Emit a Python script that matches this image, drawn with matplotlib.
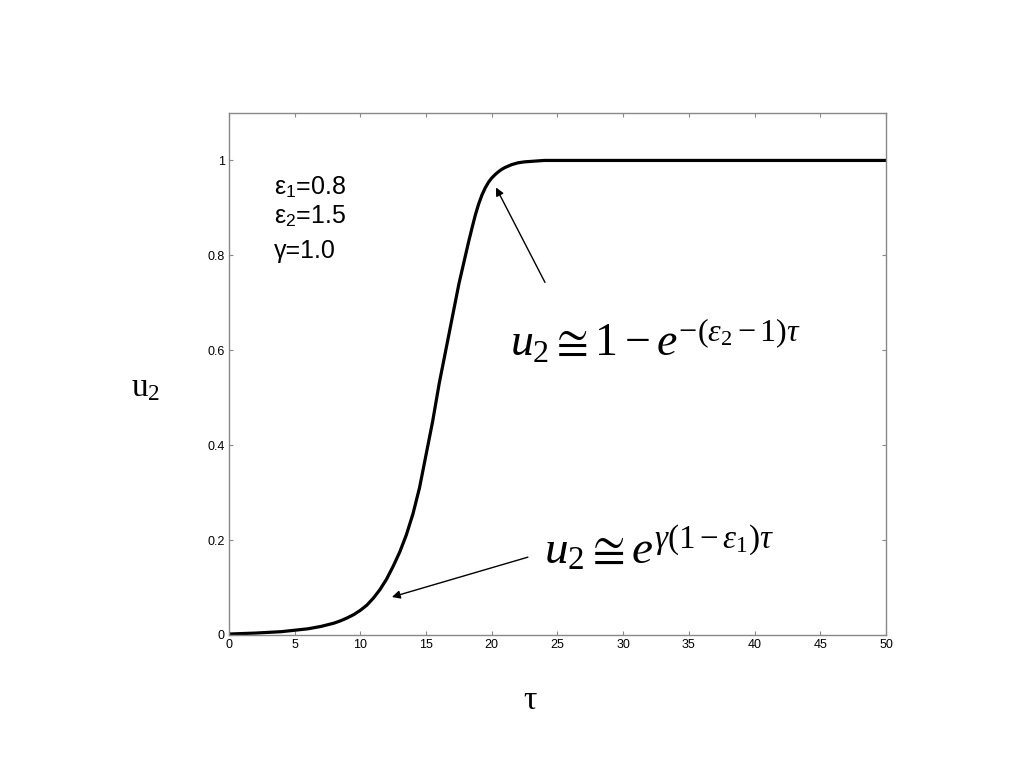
import matplotlib
matplotlib.use("Agg")
import matplotlib.pyplot as plt

plt.rcParams['mathtext.fontset'] = 'custom'
plt.rcParams['mathtext.rm'] = 'Liberation Serif'
plt.rcParams['mathtext.it'] = 'Liberation Serif:italic'
plt.rcParams['mathtext.sf'] = 'Liberation Sans'

# Data
tau = [0, 2, 4, 6, 7, 8, 8.5, 9, 9.5, 10, 10.5, 11, 11.5, 12, 12.5, 13, 13.5,
       14, 14.5, 15, 15.5, 16, 16.5, 17, 17.5, 18, 18.25, 18.5, 18.75, 19,
       19.25, 19.5, 19.75, 20, 20.25, 20.5, 20.75, 21, 21.5, 22, 22.5, 23,
       23.5, 24, 30, 40, 50]
u2 = [0.002, 0.004, 0.007, 0.013, 0.018, 0.025, 0.030, 0.036, 0.043, 0.052,
      0.063, 0.078, 0.096, 0.118, 0.145, 0.175, 0.211, 0.255, 0.31, 0.38,
      0.45, 0.53, 0.60, 0.67, 0.74, 0.80, 0.83, 0.858, 0.885, 0.908, 0.927,
      0.942, 0.954, 0.963, 0.970, 0.976, 0.981, 0.985, 0.991, 0.995, 0.997,
      0.998, 0.999, 1.0, 1.0, 1.0, 1.0]
x_ticks = [0, 5, 10, 15, 20, 25, 30, 35, 40, 45, 50]
y_ticks = [0, 0.2, 0.4, 0.6, 0.8, 1]
y_ticklabels = ['0', '0.2', '0.4', '0.6', '0.8', '1']
params = ['ε$_\\mathsf{1}$=0.8', 'ε$_\\mathsf{2}$=1.5', 'γ=1.0']

fig = plt.figure(figsize=(10.24, 7.68), dpi=100)
ax = fig.add_axes([0.2236, 0.1732, 0.6416, 0.6797])
ax.plot(tau, u2, color='black', lw=2.3, solid_joinstyle='round')
ax.set_xlim(0, 50)
ax.set_ylim(0, 1.1)
ax.set_xticks(x_ticks)
ax.set_xticklabels([str(v) for v in x_ticks])
ax.set_yticks(y_ticks)
ax.set_yticklabels(y_ticklabels)
ax.tick_params(direction='in', length=3, width=0.8, color='#888888',
               labelsize=9, top=True, right=True, pad=3)
for lab in ax.get_xticklabels() + ax.get_yticklabels():
    lab.set_family('Liberation Sans')
for s in ax.spines.values():
    s.set_color('#888888')
    s.set_linewidth(1.0)

ypos = [0.858, 0.802, 0.735]
for t, yy in zip(params, ypos):
    ax.text(0.068, yy, t, transform=ax.transAxes, fontsize=18,
            family='Liberation Sans', va='center', ha='left')

fig.text(0.142, 0.497, r'$\mathrm{u_2}$', fontsize=24, ha='center', va='center')
fig.text(0.518, 0.088, 'τ', fontsize=24, family='Liberation Serif',
         ha='center', va='center')

ax.annotate('', xy=(20.32, 0.943), xytext=(24.05, 0.743),
            arrowprops=dict(arrowstyle='-|>', color='black', lw=1.0,
                            mutation_scale=12, shrinkA=0, shrinkB=0))
ax.annotate('', xy=(12.4, 0.08), xytext=(22.75, 0.164),
            arrowprops=dict(arrowstyle='-|>', color='black', lw=1.0,
                            mutation_scale=12, shrinkA=0, shrinkB=0))

ax.text(21.4, 0.615, r'$u_2 \cong 1 - e^{-(\varepsilon_2 - 1)\tau}$',
        fontsize=33, ha='left', va='center')
ax.text(24.0, 0.18, r'$u_2 \cong e^{\gamma(1-\varepsilon_1)\tau}$',
        fontsize=34, ha='left', va='center')

fig.savefig('out.png', dpi=100)
